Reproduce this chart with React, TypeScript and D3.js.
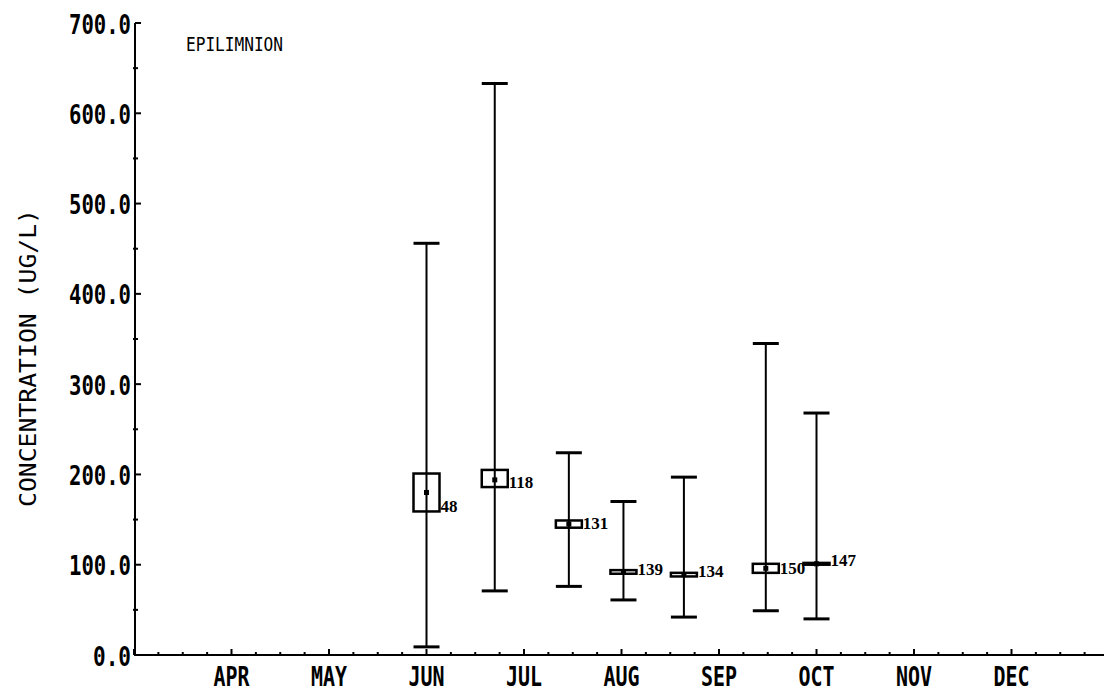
import React from "react";
import * as d3 from "d3";

// month offset: 0 = 1 MAR, 1 = 1 APR, ...
const monthLabels = ["APR", "MAY", "JUN", "JUL", "AUG", "SEP", "OCT", "NOV", "DEC"];
const monthPos = [1, 2, 3, 4, 5, 6, 7, 8, 9];
const yTicks = [0, 100, 200, 300, 400, 500, 600, 700];

const sampleX = [3.0, 3.7, 4.46, 5.02, 5.64, 6.48, 7.0];
const maxVal = [456, 633, 224, 170, 197, 345, 268];
const minVal = [9, 71, 76, 61, 42, 49, 40];
const meanVal = [180, 194, 145, 92, 89, 96, 101];
const boxHi = [201, 205, 149, 94, 91, 101, 102];
const boxLo = [159, 186, 141, 90, 87, 91, 100];
const counts = [48, 118, 131, 139, 134, 150, 147];

const W = 1104;
const H = 696;

export default function App() {
  const x = d3.scaleLinear().domain([0, 10]).range([134, 1109]);
  const y = d3.scaleLinear().domain([0, 700]).range([655, 23]);
  const axisX = 135;
  const axisY = y(0);

  const minorX = d3.range(0, 10.01, 0.25);
  const minorY = d3.range(50, 700, 100);
  const mono = "'DejaVu Sans Mono', monospace";
  const capW = 13;
  const boxW = 13;

  return (
    <svg
      width={W}
      height={H}
      viewBox={`0 0 ${W} ${H}`}
      style={{ position: "absolute", left: 0, top: 0, background: "#fff" }}
    >
      <rect x={0} y={0} width={W} height={H} fill="#fff" />
      {/* axes */}
      <line x1={axisX} x2={axisX} y1={y(700)} y2={axisY + 1} stroke="#000" strokeWidth={2} />
      <line x1={axisX} x2={W} y1={axisY} y2={axisY} stroke="#000" strokeWidth={2} />
      {yTicks.map((t) => (
        <g key={"yt" + t}>
          <line x1={axisX} x2={axisX + 6} y1={y(t)} y2={y(t)} stroke="#000" strokeWidth={2} />
          <text
            x={131}
            y={y(t) + 1}
            textAnchor="end"
            dominantBaseline="central"
            fontFamily={mono}
            fontWeight="bold"
            fontSize={27}
            textLength={t === 0 ? 38 : 62}
            lengthAdjust="spacingAndGlyphs"
          >
            {t.toFixed(1)}
          </text>
        </g>
      ))}
      {minorY.map((t) => (
        <line key={"my" + t} x1={axisX - 2} x2={axisX + 3} y1={y(t)} y2={y(t)} stroke="#000" strokeWidth={2} />
      ))}
      {minorX.map((t) => (
        <line
          key={"mx" + t}
          x1={x(t)}
          x2={x(t)}
          y1={axisY}
          y2={axisY - (Number.isInteger(t) ? 6 : 3)}
          stroke="#000"
          strokeWidth={2}
        />
      ))}
      {monthLabels.map((m, i) => (
        <text
          key={m}
          x={x(monthPos[i])}
          y={676}
          textAnchor="middle"
          dominantBaseline="central"
          fontFamily={mono}
          fontWeight="bold"
          fontSize={27}
          textLength={36}
          lengthAdjust="spacingAndGlyphs"
        >
          {m}
        </text>
      ))}
      <text
        transform={`translate(28,358) rotate(-90)`}
        textAnchor="middle"
        dominantBaseline="central"
        fontFamily={mono}
        fontSize={23}
        textLength={298}
        lengthAdjust="spacingAndGlyphs"
      >
        CONCENTRATION (UG/L)
      </text>
      <text
        x={186}
        y={44}
        dominantBaseline="central"
        fontFamily={mono}
        fontSize={20}
        textLength={97}
        lengthAdjust="spacingAndGlyphs"
      >
        EPILIMNION
      </text>
      {/* error bars */}
      {sampleX.map((sx, i) => {
        const cx = x(sx);
        const hi = y(boxHi[i]);
        const lo = y(boxLo[i]);
        return (
          <g key={"s" + i}>
            <line x1={cx} x2={cx} y1={y(maxVal[i])} y2={y(minVal[i])} stroke="#000" strokeWidth={2} />
            <line x1={cx - capW} x2={cx + capW} y1={y(maxVal[i])} y2={y(maxVal[i])} stroke="#000" strokeWidth={3} />
            <line x1={cx - capW} x2={cx + capW} y1={y(minVal[i])} y2={y(minVal[i])} stroke="#000" strokeWidth={3} />
            <rect
              x={cx - boxW}
              y={hi}
              width={boxW * 2}
              height={Math.max(lo - hi, 1)}
              fill="none"
              stroke="#000"
              strokeWidth={2.5}
            />
            <rect x={cx - 2.5} y={y(meanVal[i]) - 2.5} width={5} height={5} fill="#000" />
            <text
              x={cx + boxW + 1}
              y={lo + 1}
              fontFamily="'Liberation Serif', serif"
              fontWeight="bold"
              fontSize={17}
            >
              {counts[i]}
            </text>
          </g>
        );
      })}
    </svg>
  );
}
